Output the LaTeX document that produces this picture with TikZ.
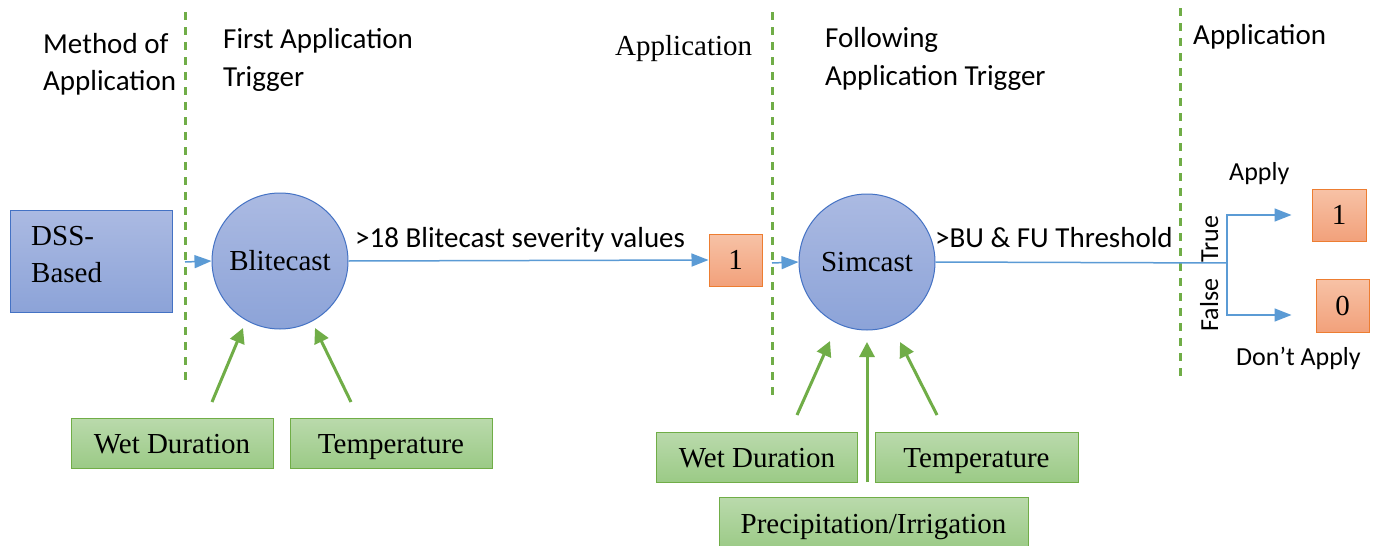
\documentclass[tikz,border=0pt]{standalone}
\usepackage{fontspec}
\setmainfont{Liberation Serif}
\newfontfamily\calibri{Carlito}
\usetikzlibrary{arrows.meta}

\definecolor{flowblue}{HTML}{5B9BD5}
\definecolor{phasegreen}{HTML}{70AD47}
\definecolor{procedge}{HTML}{4472C4}
\definecolor{proctop}{HTML}{ABBAE2}
\definecolor{procbot}{HTML}{8CA3D8}
\definecolor{flagedge}{HTML}{ED7D31}
\definecolor{flagtop}{HTML}{F7C2A6}
\definecolor{flagbot}{HTML}{F2A17B}
\definecolor{inputtop}{HTML}{BADAAC}
\definecolor{inputbot}{HTML}{9BCA86}

\tikzset{
  serif/.style={font=\fontsize{29}{35}\selectfont},
  label29/.style={inner sep=0pt, font=\calibri\fontsize{29}{35}\selectfont},
  label26/.style={inner sep=0pt, font=\calibri\fontsize{26}{31}\selectfont},
  phase/.style={draw=phasegreen, line width=3pt, dash pattern=on 8pt off 7pt},
  flow/.style={draw=flowblue, line width=1.5pt, -{Triangle[length=17pt,width=13pt]}},
  feed/.style={draw=phasegreen, line width=3pt, -{Triangle[length=15pt,width=15pt]}},
  model/.style={circle, draw=procedge, line width=1pt, top color=proctop, bottom color=procbot,
                minimum size=136pt, inner sep=0pt, serif},
  method/.style={rectangle, draw=procedge, line width=1pt, top color=proctop, bottom color=procbot,
                minimum width=162pt, minimum height=102pt, inner sep=0pt},
  flag/.style={rectangle, draw=flagedge, line width=1pt, top color=flagtop, bottom color=flagbot,
                minimum width=53pt, minimum height=52pt, inner sep=0pt, serif},
  inputbox/.style={rectangle, draw=phasegreen, line width=1pt, top color=inputtop, bottom color=inputbot,
                minimum height=50pt, inner sep=0pt, text height=20pt, text depth=0pt, serif},
}

\begin{document}
\begin{tikzpicture}[x=1pt,y=-1pt]
\clip (0,0) rectangle (1377,546);
\fill[white] (0,0) rectangle (1377,546);

% phase separators
\coordinate (p1top) at (185,12);  \coordinate (p1bot) at (185,380);
\coordinate (p2top) at (772,12);  \coordinate (p2bot) at (772,395);
\coordinate (p3top) at (1180,8);  \coordinate (p3bot) at (1180,376);
\draw[phase] (p1top) -- (p1bot);
\draw[phase] (p2top) -- (p2bot);
\draw[phase] (p3top) -- (p3bot);

% column headings
\node[label29, anchor=base west] (h1a) at (43,53) {Method of};
\node[label29, anchor=base west] (h1b) at (43,90) {Application};
\node[label29, anchor=base west] (h2a) at (223,48) {First Application};
\node[label29, anchor=base west] (h2b) at (223,86) {Trigger};
\node[serif, inner sep=0pt, anchor=base west] (h3) at (615,55) {Application};
\node[label29, anchor=base west] (h4a) at (825,47) {Following};
\node[label29, anchor=base west] (h4b) at (825,85) {Application Trigger};
\node[label29, anchor=base west] (h5) at (1193,45) {Application};

% method box
\node[method] (dss) at (91,261) {};
\node[serif, inner sep=0pt, anchor=base west] (dssa) at (31,245) {DSS-};
\node[serif, inner sep=0pt, anchor=base west] (dssb) at (31,282) {Based};

% models
\node[model] (blite) at (280,261) {Blitecast};
\node[model] (sim) at (867,262) {Simcast};

% application flags
\node[flag] (app1) at (735.5,260) {1};
\node[flag, minimum width=54pt] (yes) at (1339,215) {1};
\node[flag, minimum height=53pt] (no) at (1342.5,305.5) {0};

% main flow
\coordinate (in1) at (185,262);
\coordinate (in2) at (772,263);
\coordinate (split) at (1227,263);
\draw[flow] (in1) -- (blite.west);
\draw[flow] (blite.east) -- (app1.west);
\draw[flow] (in2) -- (sim.west);
\draw[draw=flowblue, line width=1.5pt] (sim.east) -- (split);
\draw[flow, shorten >=20pt] (split) |- (yes.west);
\draw[flow, shorten >=24pt] (split) |- ([yshift=-9.5pt]no.west);

% flow labels
\node[label29, anchor=base west] (t1) at (355,247) {>18 Blitecast severity values};
\node[label29, anchor=base west] (t2) at (935,247) {>BU \& FU Threshold};
\node[label26, rotate=90, anchor=base] (ttrue) at (1218,239) {True};
\node[label26, rotate=90, anchor=base] (tfalse) at (1218,305) {False};
\node[label26, anchor=base west] (tapply) at (1229,180) {Apply};
\node[label26, anchor=base west] (tnot) at (1236,365) {Don’t Apply};

% weather inputs
\node[inputbox, minimum width=202pt] (wd1) at (172,443) {Wet Duration};
\node[inputbox, minimum width=202pt] (tp1) at (391,443) {Temperature};
\node[inputbox, minimum width=201pt] (wd2) at (757,457) {Wet Duration};
\node[inputbox, minimum width=203pt] (tp2) at (976.5,457) {Temperature};
\node[inputbox, minimum width=309pt, minimum height=52pt] (pi) at (873.5,523) {Precipitation/Irrigation};

% input arrows
\coordinate (f1s) at (212,402);  \coordinate (f1e) at (243,328);
\coordinate (f2s) at (351,402);  \coordinate (f2e) at (315,328);
\coordinate (f3s) at (797,415);  \coordinate (f3e) at (830,341);
\coordinate (f4s) at (867,482);  \coordinate (f4e) at (867,342);
\coordinate (f5s) at (937,415);  \coordinate (f5e) at (900,342);
\draw[feed] (f1s) -- (f1e);
\draw[feed] (f2s) -- (f2e);
\draw[feed] (f3s) -- (f3e);
\draw[feed] (f4s) -- (f4e);
\draw[feed] (f5s) -- (f5e);
\end{tikzpicture}
\end{document}
